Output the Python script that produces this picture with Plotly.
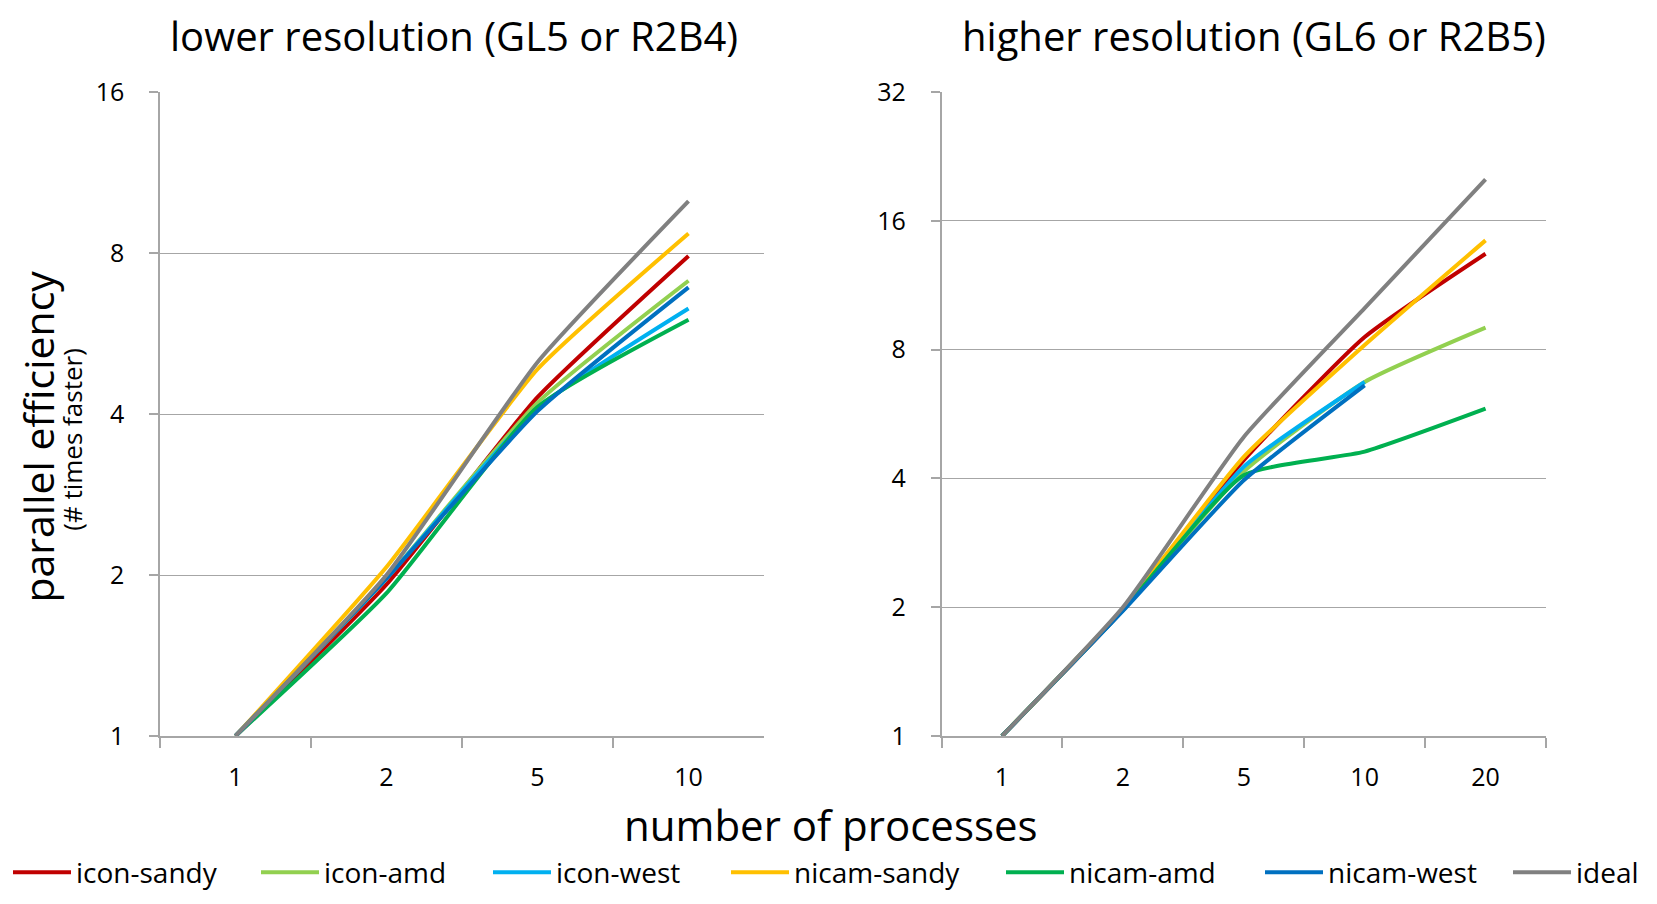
import plotly.graph_objects as go
import math

# ---- data ----
procs_low = ["1", "2", "5", "10"]
procs_high = ["1", "2", "5", "10", "20"]
series_names = ["icon-sandy", "icon-amd", "icon-west", "nicam-sandy", "nicam-amd", "nicam-west", "ideal"]
series_colors = ["#C00000", "#92D050", "#00B0F0", "#FFC000", "#00B050", "#0070C0", "#808080"]

low_icon_sandy = [1, 1.92, 4.3, 7.9]
low_icon_amd = [1, 1.97, 4.2, 7.1]
low_icon_west = [1, 1.97, 4.1, 6.3]
low_nicam_sandy = [1, 2.07, 4.85, 8.7]
low_nicam_amd = [1, 1.85, 4.12, 6.0]
low_nicam_west = [1, 1.97, 4.05, 6.9]
low_ideal = [1, 2, 5, 10]

high_icon_sandy = [1, 1.97, 4.41, 8.56, 13.4]
high_icon_amd = [1, 1.97, 4.15, 6.72, 9.0]
high_icon_west = [1, 1.97, 4.26, 6.72, None]
high_nicam_sandy = [1, 1.98, 4.49, 8.2, 14.4]
high_nicam_amd = [1, 1.97, 4.07, 4.62, 5.82]
high_nicam_west = [1, 1.96, 3.96, 6.6, None]
high_ideal = [1, 2, 5, 10, 20]

low_series = [low_icon_sandy, low_icon_amd, low_icon_west, low_nicam_sandy, low_nicam_amd, low_nicam_west, low_ideal]
high_series = [high_icon_sandy, high_icon_amd, high_icon_west, high_nicam_sandy, high_nicam_amd, high_nicam_west, high_ideal]

low_ticks = [1, 2, 4, 8, 16]
high_ticks = [1, 2, 4, 8, 16, 32]

FONT = "Open Sans"
FIG_W, FIG_H = 1641, 888  # page body has an 8px margin

# legend entry start positions (figure px) along the bottom row
legend_x_px = [0, 248, 480, 718, 993, 1252, 1500]
legend_ids = ["legend"] + ["legend%d" % k for k in range(2, 8)]

fig = go.Figure()
for i, name in enumerate(series_names):
    fig.add_trace(go.Scatter(x=procs_low, y=low_series[i], name=name, mode="lines",
                             line=dict(color=series_colors[i], width=4, shape="spline", smoothing=0.5),
                             xaxis="x", yaxis="y", legendgroup=name, showlegend=True,
                             legend=legend_ids[i]))
for i, name in enumerate(series_names):
    fig.add_trace(go.Scatter(x=procs_high, y=high_series[i], name=name, mode="lines",
                             line=dict(color=series_colors[i], width=4, shape="spline", smoothing=0.5),
                             xaxis="x2", yaxis="y2", legendgroup=name, showlegend=False,
                             connectgaps=False))

grid = "#A6A6A6"
axis_common = dict(showline=True, linecolor=grid, linewidth=1.5, zeroline=False,
                   tickfont=dict(family=FONT, size=25, color="#000"), automargin=False)

fig.update_layout(
    width=FIG_W, height=FIG_H,
    paper_bgcolor="white", plot_bgcolor="white",
    margin=dict(l=152, r=103, t=84, b=160, autoexpand=False),
    font=dict(family=FONT, color="#000"),
    xaxis=dict(domain=[0, 0.4358], type="category", range=[-0.5, 3.5],
               showgrid=False, ticks="outside", tickson="boundaries", ticklen=10,
               tickcolor=grid, tickwidth=1.5, ticklabelstandoff=18, **axis_common),
    xaxis2=dict(domain=[0.5639, 1], type="category", range=[-0.5, 4.5],
                showgrid=False, ticks="outside", tickson="boundaries", ticklen=10,
                tickcolor=grid, tickwidth=1.5, ticklabelstandoff=18, anchor="y2", **axis_common),
    yaxis=dict(type="log", range=[0, math.log10(16)], tickvals=low_ticks,
               ticktext=[str(t) for t in low_ticks], showgrid=True, gridcolor=grid,
               gridwidth=1.2, ticks="outside", ticklen=9, tickcolor=grid, tickwidth=1.5,
               ticklabelstandoff=20, **axis_common),
    yaxis2=dict(type="log", range=[0, math.log10(32)], tickvals=high_ticks,
                ticktext=[str(t) for t in high_ticks], showgrid=True, gridcolor=grid,
                gridwidth=1.2, ticks="outside", ticklen=9, tickcolor=grid, tickwidth=1.5,
                ticklabelstandoff=20, anchor="x2", **axis_common),
    showlegend=True,
)

for lid, xpx in zip(legend_ids, legend_x_px):
    fig.update_layout({lid: dict(orientation="h", x=xpx / FIG_W, xanchor="left", xref="container",
                                 y=-0.212, yanchor="middle", yref="paper",
                                 font=dict(family=FONT, size=28, color="#000"),
                                 itemwidth=58, bgcolor="rgba(0,0,0,0)")})

annotations = [
    dict(text="lower resolution (GL5 or R2B4)", x=0.212, xref="paper", y=1.0, yref="paper",
         yshift=57, showarrow=False, font=dict(family=FONT, size=40, color="#000"),
         xanchor="center", yanchor="middle"),
    dict(text="higher resolution (GL6 or R2B5)", x=0.789, xref="paper", y=1.0, yref="paper",
         yshift=57, showarrow=False, font=dict(family=FONT, size=40, color="#000"),
         xanchor="center", yanchor="middle"),
    dict(text="number of processes", x=0.4841, xref="paper", y=0, yref="paper", yshift=-88,
         showarrow=False, font=dict(family=FONT, size=42, color="#000"),
         xanchor="center", yanchor="middle"),
    dict(text="parallel efficiency", x=0, xref="paper", xshift=-122, y=0.465, yref="paper",
         textangle=-90, showarrow=False, font=dict(family=FONT, size=41, color="#000"),
         xanchor="center", yanchor="middle"),
    dict(text="(# times faster)", x=0, xref="paper", xshift=-88, y=0.46, yref="paper",
         textangle=-90, showarrow=False, font=dict(family=FONT, size=26, color="#000"),
         xanchor="center", yanchor="middle"),
]
fig.update_layout(annotations=annotations)

fig.write_html("out.html")
